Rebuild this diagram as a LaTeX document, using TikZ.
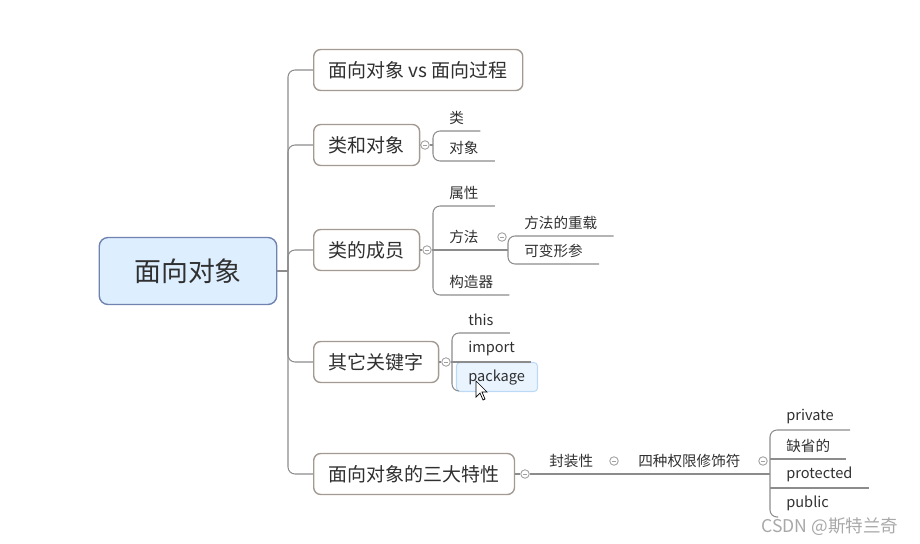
\documentclass[tikz,border=0pt]{standalone}
\usepackage{fontspec}
\setmainfont{Noto Sans CJK SC}
\usepackage{xcolor}
\usepackage{tikz}
\usetikzlibrary{positioning}

\definecolor{ink}{HTML}{303030}
\definecolor{linkgray}{HTML}{8C8C8C}
\definecolor{topicline}{HTML}{A39B93}
\definecolor{rootfill}{HTML}{DDEEFF}
\definecolor{rootline}{HTML}{7083B0}
\definecolor{foldgray}{HTML}{A0A0A0}
\definecolor{selfill}{HTML}{EAF4FF}
\definecolor{selline}{HTML}{BCDAF5}
\definecolor{wmgray}{HTML}{A8A8A8}

\begin{document}
\begin{tikzpicture}[x=0.02cm, y=-0.02cm,
    root/.style={rectangle, draw=rootline, rounded corners=5pt, fill=rootfill, line width=0.8pt, inner xsep=0.7cm, minimum height=1.34cm, font=\fontsize{15.3}{18}\selectfont, text=ink},
    topic/.style={rectangle, draw=topicline, rounded corners=4pt, fill=white, line width=0.8pt, inner xsep=0.3cm, minimum height=0.82cm, font=\fontsize{10.8}{13}\selectfont, text=ink, anchor=west},
    leaf/.style={anchor=south west, inner xsep=0.32cm, inner ysep=0pt, minimum height=0.52cm, font=\fontsize{8.3}{10}\selectfont, text=ink},
    link/.style={draw=linkgray, line width=0.6pt, rounded corners=4pt},
    fold/.style={circle, draw=foldgray, fill=white, line width=0.5pt, inner sep=0pt, minimum size=0.17cm,
        path picture={\draw[foldgray, line width=0.5pt] ([xshift=1.3pt]path picture bounding box.west) -- ([xshift=-1.3pt]path picture bounding box.east);}},
    pick/.style={rectangle, rounded corners=2pt, draw=selline, fill=selfill, line width=0.6pt, minimum width=1.62cm, minimum height=0.58cm},
    watermark/.style={font=\fontsize{10}{12}\selectfont, text=wmgray}
]
    \useasboundingbox (0,0) rectangle (920,544);

    % Root
    \node[root] (root) at (188,271) {面向对象};

    % Topics
    \node[topic] (t1) at (313,70) {面向对象 vs 面向过程};
    \node[topic] (t2) at (313,145) {类和对象};
    \node[topic] (t3) at (313,250) {类的成员};
    \node[topic] (t4) at (313,362) {其它关键字};
    \node[topic] (t5) at (313,474) {面向对象的三大特性};

    % Trunk
    \coordinate (hub) at (288,271);
    \draw[link] (root.east) -- (hub);
    \foreach \t in {t1,t2,t3,t4,t5}
        \draw[link] (hub) |- (\t.west);

    % Class and object
    \node[fold] (f2) at (425,145) {};
    \node[leaf] (cls) at (433,131) {类};
    \node[leaf] (obj) at (433,161) {对象};
    \draw[link] (t2.east) -- (f2);
    \draw[link] (f2) -- (f2 -| cls.south west);
    \draw[link] (cls.south east) -- (cls.south west) -- (obj.south west) -- (obj.south east);

    % Members
    \node[fold] (f3) at (427,250) {};
    \node[leaf] (attr) at (433,206) {属性};
    \node[leaf] (meth) at (433,250) {方法};
    \node[leaf] (ctor) at (433,295) {构造器};
    \draw[link] (t3.east) -- (f3);
    \draw[link] (attr.south east) -- (attr.south west) -- (ctor.south west) -- (ctor.south east);
    \coordinate (msplit) at (508,250);
    \draw[link] (f3) -- (msplit);
    \node[fold] (fm) at (502,237) {};
    \node[leaf] (ovl) at (508,236) {方法的重载};
    \node[leaf] (vararg) at (508,264) {可变形参};
    \draw[link] (ovl.south east) -- (ovl.south west) -- (vararg.south west) -- (vararg.south east);

    % Keywords
    \node[fold] (f4) at (446,362) {};
    \node[pick] (sel) at (497,377) {};
    \node[leaf] (kthis) at (452,333) {this};
    \node[leaf] (kimp) at (452,362) {import};
    \node[leaf] (kpkg) at (452,391) {package};
    \draw[link] (t4.east) -- (f4);
    \draw[link] (f4) -- (kimp.south east);
    \draw[link] (kthis.south east) -- (kthis.south west) -- (kpkg.south west) -- ++(7,0);
    \draw[fill=white, draw=black, line width=0.4pt] (476,381) -- ++(0,16) -- ++(4,-4) -- ++(3,7) -- ++(2,-1) -- ++(-3,-7) -- ++(5,0) -- cycle;

    % Three features
    \node[fold] (f5) at (525,474) {};
    \node[leaf] (encap) at (533,474) {封装性};
    \node[fold] (fe) at (614,461) {};
    \node[leaf] (mods) at (622,474) {四种权限修饰符};
    \node[fold] (fmod) at (763,461) {};
    \coordinate (mspine) at (770,474);
    \draw[link] (t5.east) -- (f5);
    \draw[link] (f5) -- (mspine);
    \node[leaf] (priv) at (770,430) {private};
    \node[leaf] (dflt) at (770,459) {缺省的};
    \node[leaf] (prot) at (770,488) {protected};
    \node[leaf] (pub) at (770,517) {public};
    \draw[link] (priv.south east) -- (priv.south west) -- (pub.south west) -- ++(8,0);
    \draw[link] (dflt.south west) -- (dflt.south east);
    \draw[link] (prot.south west) -- (prot.south east);

    % Watermark
    \node[watermark] (wm) at (830,527) {CSDN @斯特兰奇};

\end{tikzpicture}
\end{document}
